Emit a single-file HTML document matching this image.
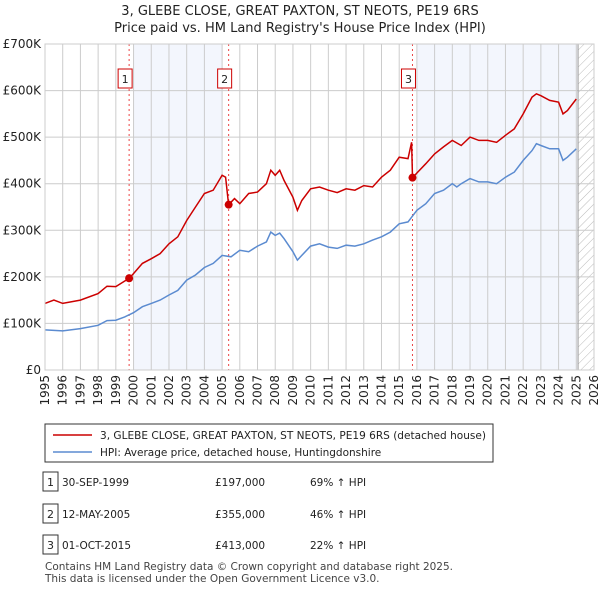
<!DOCTYPE html>
<html><head><meta charset="utf-8"><style>
body{margin:0;background:#fff;font-family:"Liberation Sans","DejaVu Sans",sans-serif;}
svg text{font-family:"DejaVu Sans","Liberation Sans",sans-serif;}
</style></head><body>
<svg id="c" width="600" height="590" xmlns="http://www.w3.org/2000/svg"></svg>
<script>
const hpiYears=[1995,1996,1997,1998,1998.5,1999,1999.5,2000,2000.5,2001,2001.5,2002,2002.5,2003,2003.5,2004,2004.5,2005,2005.5,2006,2006.5,2007,2007.5,2007.75,2008,2008.25,2008.5,2009,2009.25,2009.5,2010,2010.5,2011,2011.5,2012,2012.5,2013,2013.5,2014,2014.5,2015,2015.5,2016,2016.5,2017,2017.5,2018,2018.25,2018.5,2019,2019.5,2020,2020.5,2021,2021.5,2022,2022.5,2022.75,2023,2023.5,2024,2024.25,2024.5,2025];
const hpiValues=[86,84,89,96,106,107,114,123,136,143,150,161,171,193,204,220,229,246,243,257,254,266,275,296,289,294,282,254,236,246,266,271,264,261,268,266,271,279,286,296,314,318,343,357,379,386,400,393,400,411,404,404,400,414,425,450,471,486,482,475,475,450,457,475];
const priceYears=[1995,1995.5,1996,1997,1998,1998.5,1999,1999.75,2000,2000.5,2001,2001.5,2002,2002.5,2003,2003.5,2004,2004.5,2005,2005.2,2005.37,2005.7,2006,2006.5,2007,2007.5,2007.75,2008,2008.25,2008.5,2009,2009.25,2009.5,2010,2010.5,2011,2011.5,2012,2012.5,2013,2013.5,2014,2014.5,2015,2015.5,2015.7,2015.75,2016,2016.5,2017,2017.5,2018,2018.5,2019,2019.5,2020,2020.5,2021,2021.5,2022,2022.5,2022.75,2023,2023.5,2024,2024.25,2024.5,2025];
const priceValues=[143,150,143,150,164,180,179,197,207,229,239,250,271,286,321,350,379,386,418,414,355,368,357,379,382,400,429,418,429,407,371,343,364,389,393,386,381,389,386,396,393,414,429,457,454,489,413,423,443,464,479,493,482,500,493,493,489,504,518,550,586,593,589,579,575,550,557,582];
const saleYears=[1999.75,2005.37,2015.75];
const saleValues=[197,355,413];
const saleLabels=["1","2","3"];
const yTicks=[0,100,200,300,400,500,600,700];
const yTickLabels=["£0","£100K","£200K","£300K","£400K","£500K","£600K","£700K"];
const xTicks=[1995,1996,1997,1998,1999,2000,2001,2002,2003,2004,2005,2006,2007,2008,2009,2010,2011,2012,2013,2014,2015,2016,2017,2018,2019,2020,2021,2022,2023,2024,2025,2026];

const L=45,R=594,T=44,B=370;
const X=v=>L+(v-1995)*(R-L)/31;
const Y=v=>B-v*(B-T)/700;
const svg=document.getElementById('c');
const NS="http://www.w3.org/2000/svg";
function mk(tag,attrs,parent){const e=document.createElementNS(NS,tag);for(const k in attrs)e.setAttribute(k,attrs[k]);(parent||svg).appendChild(e);return e;}

let t=mk('text',{x:300,y:15,'text-anchor':'middle','font-size':13,fill:'#222'});t.textContent="3, GLEBE CLOSE, GREAT PAXTON, ST NEOTS, PE19 6RS";

t=mk('text',{x:300,y:32,'text-anchor':'middle','font-size':13,fill:'#222'});t.textContent="Price paid vs. HM Land Registry's House Price Index (HPI)";


let s=mk('rect',{x:X(2000),y:T,width:X(2005)-X(2000),height:B-T,fill:'#eef2fc',opacity:0.7});

s=mk('rect',{x:X(2016),y:T,width:X(2025.1)-X(2016),height:B-T,fill:'#eef2fc',opacity:0.7});

const defs=mk('defs',{});
const pat=mk('pattern',{id:'h',width:6,height:6,patternUnits:'userSpaceOnUse',patternTransform:'rotate(45)'},defs);
mk('line',{x1:0,y1:0,x2:0,y2:6,stroke:'#bbb','stroke-width':1},pat);
s=mk('rect',{x:X(2025.1),y:T,width:R-X(2025.1),height:B-T,fill:'url(#h)'});


yTicks.forEach((v,i)=>{
 const g=mk('line',{x1:L,x2:R,y1:Y(v),y2:Y(v),stroke:'#ccc','stroke-width':1});
 
 const tx=mk('text',{x:L-4,y:Y(v)+4,'text-anchor':'end','font-size':12,fill:'#222'});tx.textContent=yTickLabels[i];
 
});
xTicks.forEach(v=>{
 const g=mk('line',{x1:X(v),x2:X(v),y1:T,y2:B,stroke:'#ccc','stroke-width':1});
 
 const tx=mk('text',{x:0,y:0,'text-anchor':'end','font-size':12,fill:'#222',transform:`translate(${X(v)+4},${B+5}) rotate(-90)`});tx.textContent=v;
 
});
mk('line',{x1:X(2025.1),x2:X(2025.1),y1:T,y2:B,stroke:'#999','stroke-width':1});

saleYears.forEach((v,i)=>{
 const l=mk('line',{x1:X(v),x2:X(v),y1:T,y2:B,stroke:'#e44','stroke-width':1,'stroke-dasharray':'2,3'});
 
 const bx=mk('rect',{x:X(v)-11,y:69,width:14,height:19,fill:'#fff',stroke:'#c00','stroke-width':1});
 
 const tx=mk('text',{x:X(v)-4,y:83,'text-anchor':'middle','font-size':11,fill:'#222'});tx.textContent=saleLabels[i];
 
});

function path(xs,ys){return xs.map((x,i)=>(i?'L':'M')+X(x).toFixed(1)+','+Y(ys[i]).toFixed(1)).join('');}
let p=mk('path',{d:path(hpiYears,hpiValues),fill:'none',stroke:'#5b8bd0','stroke-width':1.5});

p=mk('path',{d:path(priceYears,priceValues),fill:'none',stroke:'#cc0000','stroke-width':1.5});

saleYears.forEach((v,i)=>{
 const c=mk('circle',{cx:X(v),cy:Y(saleValues[i]),r:4,fill:'#cc0000'});
 
});
mk('rect',{x:L,y:T,width:R-L,height:B-T,fill:'none',stroke:'#ccc'});

const lg=mk('g',{});

mk('rect',{x:45,y:424,width:448,height:38,fill:'#fff',stroke:'#333'},lg);
mk('line',{x1:53,x2:92,y1:435,y2:435,stroke:'#cc0000','stroke-width':1.5},lg);
t=mk('text',{x:100,y:439,'font-size':10.5,fill:'#222',textLength:386,lengthAdjust:'spacingAndGlyphs'},lg);t.textContent="3, GLEBE CLOSE, GREAT PAXTON, ST NEOTS, PE19 6RS (detached house)";

mk('line',{x1:53,x2:92,y1:452,y2:452,stroke:'#5b8bd0','stroke-width':1.5},lg);
t=mk('text',{x:100,y:456,'font-size':10.5,fill:'#222'},lg);t.textContent="HPI: Average price, detached house, Huntingdonshire";


const rows=[["1","30-SEP-1999","£197,000","69% ↑ HPI",482],["2","12-MAY-2005","£355,000","46% ↑ HPI",514],["3","01-OCT-2015","£413,000","22% ↑ HPI",545]];
rows.forEach(r=>{
 const g=mk('g',{});
 mk('rect',{x:43,y:r[4]-10,width:15,height:19,fill:'#fff',stroke:'#333'},g);
 let e=mk('text',{x:50.5,y:r[4]+4,'text-anchor':'middle','font-size':11,fill:'#222'},g);e.textContent=r[0];
 e=mk('text',{x:62,y:r[4]+4,'font-size':10.5,fill:'#222'},g);e.textContent=r[1];
 e=mk('text',{x:215,y:r[4]+4,'font-size':10.5,fill:'#222'},g);e.textContent=r[2];
 e=mk('text',{x:310,y:r[4]+4,'font-size':10.5,fill:'#222'},g);e.textContent=r[3];
});
t=mk('text',{x:45,y:570,'font-size':10.5,fill:'#444',textLength:408,lengthAdjust:'spacingAndGlyphs'});t.textContent="Contains HM Land Registry data © Crown copyright and database right 2025.";

t=mk('text',{x:45,y:582,'font-size':10.5,fill:'#444'});t.textContent="This data is licensed under the Open Government Licence v3.0.";

</script>
</body></html>
